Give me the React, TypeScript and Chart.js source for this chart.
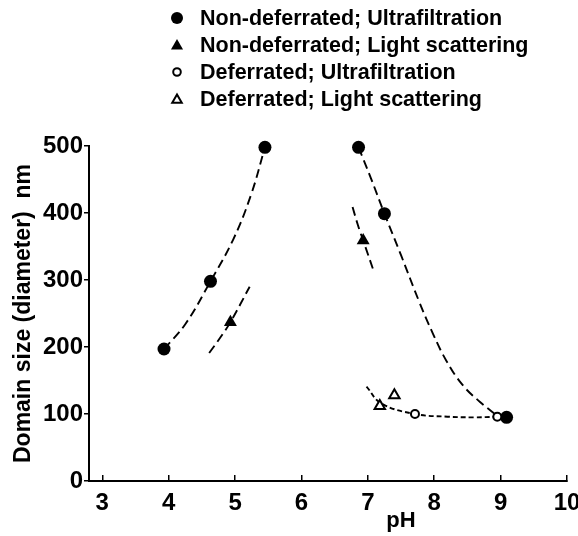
import React, { useEffect, useRef } from 'react';
import { Chart, registerables } from 'chart.js';

Chart.register(...registerables);

// ---- axis ticks ----
const X_TICKS = [3, 4, 5, 6, 7, 8, 9, 10];
const Y_TICKS = [0, 100, 200, 300, 400, 500];

// ---- legend ----
const LEGEND_LABELS = [
  'Non-deferrated; Ultrafiltration',
  'Non-deferrated; Light scattering',
  'Deferrated; Ultrafiltration',
  'Deferrated; Light scattering',
];

// ---- measured points ----
const nonDefUF_pH = [3.93, 4.63, 5.45, 6.86, 7.25, 9.09];
const nonDefUF_size = [197, 298, 498, 498, 399, 95];
const nonDefLS_pH = [4.93, 6.93];
const nonDefLS_size = [237, 359];
const defUF_pH = [7.71, 8.95];
const defUF_size = [100, 96];
const defLS_pH = [7.18, 7.4];
const defLS_size = [112, 128];

// ---- hand-drawn trend curves ----
const curveA_pH = [3.93, 4.25, 4.63, 4.97, 5.24, 5.45];
const curveA_size = [197, 234, 298, 360, 427, 498];
const curveB_pH = [4.61, 4.77, 4.93, 5.22];
const curveB_size = [191, 213, 237, 290];
const curveC_pH = [6.86, 7.05, 7.25, 7.5, 7.78, 7.98, 8.18, 8.43, 8.69, 8.94];
const curveC_size = [498, 451, 399, 337, 266, 220, 180, 143, 118, 98];
const curveD_pH = [6.77, 6.85, 6.93, 7.1];
const curveD_size = [409, 382, 359, 310];
const curveE_pH = [6.98, 7.2, 7.71, 8.2, 8.6, 8.95];
const curveE_size = [141, 116, 100, 96, 95, 96];

const FONT = '"Liberation Sans", Arial, Helvetica, sans-serif';

const toXY = (xs: number[], ys: number[]) => xs.map((x, i) => ({ x, y: ys[i] }));

type MarkerKind = 'filledCircle' | 'filledTriangle' | 'openCircle' | 'openTriangle';
const LEGEND_MARKERS: MarkerKind[] = ['filledCircle', 'filledTriangle', 'openCircle', 'openTriangle'];

function drawMarker(ctx: CanvasRenderingContext2D, kind: MarkerKind, x: number, y: number) {
  ctx.save();
  ctx.lineWidth = 2;
  ctx.strokeStyle = '#000';
  ctx.fillStyle = '#000';
  ctx.beginPath();
  if (kind === 'filledCircle') {
    ctx.arc(x, y, 6, 0, Math.PI * 2);
    ctx.fill();
  } else if (kind === 'openCircle') {
    ctx.arc(x, y, 3.8, 0, Math.PI * 2);
    ctx.stroke();
  } else {
    const r = kind === 'filledTriangle' ? 7 : 5.5;
    for (let k = 0; k < 3; k++) {
      const a = -Math.PI / 2 + (k * 2 * Math.PI) / 3;
      const px = x + Math.cos(a) * r;
      const py = y + 1 + Math.sin(a) * r;
      if (k === 0) ctx.moveTo(px, py);
      else ctx.lineTo(px, py);
    }
    ctx.closePath();
    if (kind === 'filledTriangle') ctx.fill();
    else ctx.stroke();
  }
  ctx.restore();
}

const extrasPlugin = {
  id: 'figureExtras',
  afterDraw(chart: any) {
    const ctx: CanvasRenderingContext2D = chart.ctx;
    ctx.save();
    ctx.fillStyle = '#000';
    ctx.font = `bold 21.5px ${FONT}`;
    ctx.textBaseline = 'middle';
    ctx.textAlign = 'left';
    LEGEND_LABELS.forEach((label, i) => {
      const y = 18 + i * 27;
      drawMarker(ctx, LEGEND_MARKERS[i], 177, y);
      ctx.fillText(label, 200, y + 1);
    });
    // x-axis title
    const xs = chart.scales.x;
    ctx.font = `bold 22px ${FONT}`;
    ctx.textAlign = 'center';
    ctx.textBaseline = 'middle';
    ctx.fillText('pH', xs.getPixelForValue(7.5), 521);
    ctx.restore();
  },
};

function curve(xs: number[], ys: number[], dash: number[], order: number) {
  return {
    type: 'scatter' as const,
    data: toXY(xs, ys),
    showLine: true,
    borderColor: '#000',
    borderWidth: 1.9,
    borderDash: dash,
    tension: 0.4,
    pointRadius: 0,
    pointHoverRadius: 0,
    clip: false,
    order,
  };
}

export default function App() {
  const ref = useRef<HTMLCanvasElement | null>(null);

  useEffect(() => {
    document.body.style.margin = '0';
    const canvas = ref.current;
    if (!canvas) return;
    const chart = new Chart(canvas, {
      type: 'scatter',
      data: {
        datasets: [
          curve(curveA_pH, curveA_size, [9, 5], 10),
          curve(curveB_pH, curveB_size, [9, 5], 10),
          curve(curveC_pH, curveC_size, [9, 5], 10),
          curve(curveD_pH, curveD_size, [9, 5], 10),
          curve(curveE_pH, curveE_size, [5, 3], 10),
          {
            label: LEGEND_LABELS[0],
            data: toXY(nonDefUF_pH, nonDefUF_size),
            pointStyle: 'circle',
            pointRadius: 6.5,
            backgroundColor: '#000',
            borderColor: '#000',
            borderWidth: 0,
            clip: false,
            order: 4,
          },
          {
            label: LEGEND_LABELS[1],
            data: toXY(nonDefLS_pH, nonDefLS_size),
            pointStyle: 'triangle',
            pointRadius: 7.5,
            backgroundColor: '#000',
            borderColor: '#000',
            borderWidth: 0,
            clip: false,
            order: 3,
          },
          {
            label: LEGEND_LABELS[2],
            data: toXY(defUF_pH, defUF_size),
            pointStyle: 'circle',
            pointRadius: 4,
            backgroundColor: '#fff',
            borderColor: '#000',
            borderWidth: 2,
            clip: false,
            order: 2,
          },
          {
            label: LEGEND_LABELS[3],
            data: toXY(defLS_pH, defLS_size),
            pointStyle: 'triangle',
            pointRadius: 6,
            backgroundColor: '#fff',
            borderColor: '#000',
            borderWidth: 2,
            clip: false,
            order: 1,
          },
        ],
      },
      options: {
        responsive: false,
        animation: false,
        devicePixelRatio: 1,
        layout: { padding: { top: 146, right: 11, left: 0, bottom: 0 } },
        plugins: {
          legend: { display: false },
          tooltip: { enabled: false },
        },
        scales: {
          x: {
            type: 'linear',
            min: 2.8,
            max: 10,
            afterBuildTicks: (s: any) => {
              s.ticks = X_TICKS.map((v) => ({ value: v }));
            },
            afterFit: (s: any) => {
              s.height = 55;
              s.paddingLeft = 0;
              s.paddingRight = 0;
            },
            grid: {
              display: true,
              drawOnChartArea: false,
              drawTicks: true,
              tickLength: -6,
              color: '#000',
              lineWidth: 1.5,
            },
            border: { display: true, color: '#000', width: 2 },
            ticks: {
              color: '#000',
              font: { family: FONT, size: 24, weight: 'bold' },
              padding: 14,
              maxRotation: 0,
            },
          },
          y: {
            type: 'linear',
            min: 0,
            max: 500,
            afterBuildTicks: (s: any) => {
              s.ticks = Y_TICKS.map((v) => ({ value: v }));
            },
            afterFit: (s: any) => {
              s.width = 89;
              s.paddingTop = 0;
              s.paddingBottom = 0;
            },
            grid: {
              display: true,
              drawOnChartArea: false,
              drawTicks: true,
              tickLength: 5,
              color: '#000',
              lineWidth: 1.5,
            },
            border: { display: true, color: '#000', width: 2 },
            ticks: {
              color: '#000',
              font: { family: FONT, size: 24, weight: 'bold' },
              padding: 1,
            },
            title: {
              display: true,
              text: 'Domain size (diameter)  nm',
              color: '#000',
              font: { family: FONT, size: 23, weight: 'bold' },
              padding: { top: 10, bottom: 0 },
            },
          },
        },
      },
      plugins: [extrasPlugin],
    } as any);
    return () => chart.destroy();
  }, []);

  return (
    <div style={{ width: 578, height: 536 }}>
      <canvas ref={ref} width={578} height={536} style={{ display: 'block', width: 578, height: 536 }} />
    </div>
  );
}
